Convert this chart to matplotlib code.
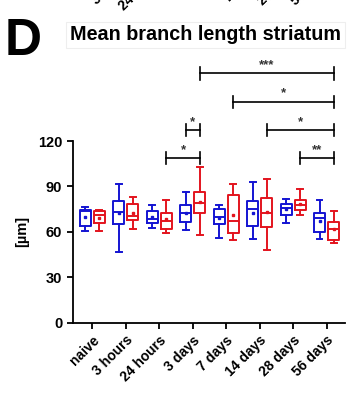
import matplotlib
matplotlib.use("Agg")
import matplotlib.pyplot as plt

plt.rcParams["font.family"] = ["Liberation Sans", "DejaVu Sans"]
plt.rcParams["font.weight"] = "bold"

groups = ["naive", "3 hours", "24 hours", "3 days", "7 days", "14 days", "28 days", "56 days"]

# blue series
whislo_b = [60.6, 46.5, 62.8, 61.0, 56.1, 55.1, 65.6, 55.3]
q1_b = [64.1, 65.2, 66.1, 66.5, 65.0, 63.9, 71.1, 59.9]
med_b = [73.5, 73.3, 68.3, 72.5, 69.6, 74.9, 75.5, 69.4]
q3_b = [74.2, 80.6, 73.8, 77.7, 74.9, 80.2, 78.2, 72.5]
whishi_b = [76.4, 91.4, 77.7, 86.5, 77.9, 92.7, 81.7, 80.8]
mean_b = [69.8, 72.3, 69.6, 72.5, 69.0, 72.7, 75.1, 67.4]

# red series
whislo_r = [60.8, 62.1, 59.0, 58.1, 54.6, 48.2, 71.3, 52.4]
q1_r = [66.1, 67.8, 62.1, 72.5, 59.0, 63.4, 74.2, 54.8]
med_r = [70.9, 70.7, 67.4, 79.1, 67.4, 72.5, 77.9, 61.9]
q3_r = [73.8, 78.6, 72.7, 86.3, 84.1, 82.4, 81.0, 66.3]
whishi_r = [74.2, 83.0, 81.3, 102.6, 91.8, 95.1, 88.1, 74.0]
mean_r = [69.2, 72.3, 68.3, 79.9, 71.3, 73.3, 78.4, 61.9]

# significance brackets: (group, series) at each end, height, label
br_start = [(3, "r"), (4, "r"), (5, "r"), (6, "r"), (3, "b"), (2, "r")]
br_end = [(7, "r"), (7, "r"), (7, "r"), (7, "r"), (3, "r"), (3, "r")]
br_y = [164.7, 146.0, 127.3, 108.6, 127.3, 108.6]
br_label = ["***", "*", "*", "**", "*", "*"]

BLUE = "#1414d2"
RED = "#e3141e"
OFF = 0.21


def make_stats(lo, q1, med, q3, hi, mean):
    return [dict(whislo=a, q1=b, med=c, q3=d, whishi=e, mean=f, fliers=[])
            for a, b, c, d, e, f in zip(lo, q1, med, q3, hi, mean)]


fig = plt.figure(figsize=(3.47, 3.93), dpi=100)
ax = fig.add_axes([0.2095, 0.179, 0.785, 0.462])

idx = list(range(len(groups)))
for stats, off, col in [
    (make_stats(whislo_b, q1_b, med_b, q3_b, whishi_b, mean_b), -OFF, BLUE),
    (make_stats(whislo_r, q1_r, med_r, q3_r, whishi_r, mean_r), OFF, RED),
]:
    ax.bxp(stats, positions=[i + off for i in idx], widths=0.33,
           showmeans=True, showfliers=False, patch_artist=False,
           boxprops=dict(color=col, lw=1.4),
           whiskerprops=dict(color=col, lw=1.4),
           capprops=dict(color=col, lw=1.4),
           medianprops=dict(color=col, lw=1.4),
           meanprops=dict(marker="s", markersize=2, markerfacecolor=col,
                          markeredgecolor=col),
           capwidths=0.17, manage_ticks=False)

for (g1, s1), (g2, s2), y, lab in zip(br_start, br_end, br_y, br_label):
    x1 = g1 + (OFF if s1 == "r" else -OFF)
    x2 = g2 + (OFF if s2 == "r" else -OFF)
    ax.plot([x1, x2], [y, y], color="black", lw=1.2, clip_on=False)
    for x in (x1, x2):
        ax.plot([x, x], [y - 4, y + 4], color="black", lw=1.2, clip_on=False)
    ax.text((x1 + x2) / 2, y + 1.5, lab, ha="center", va="bottom",
            fontsize=9.5, color="#333333", clip_on=False)

ax.set_xlim(-0.585, 7.55)
ax.set_ylim(0, 120)
ax.set_yticks([0, 30, 60, 90, 120])
ax.set_xticks(idx)
ax.set_xticklabels(groups, rotation=45, ha="right", rotation_mode="anchor",
                   fontsize=10, fontweight="bold")
ax.tick_params(axis="y", labelsize=10.5, width=1.3, length=4)
ax.tick_params(axis="x", width=1.3, length=4)
for lab in ax.get_yticklabels():
    lab.set_fontweight("bold")
for side in ("top", "right"):
    ax.spines[side].set_visible(False)
for side in ("left", "bottom"):
    ax.spines[side].set_linewidth(1.3)
ax.set_ylabel("[µm]", fontsize=10.5, fontweight="bold", labelpad=6)

fig.text(0.012, 0.895, "D", fontsize=37, fontweight="bold", va="center", ha="left")
fig.text(0.591, 0.911, "Mean branch length striatum", fontsize=14.2,
         fontweight="bold", ha="center", va="center",
         bbox=dict(boxstyle="square,pad=0.2", fc="white", ec="#eeeeee", lw=0.8))

# fragments of the panel above, cut off at the top edge
frag_text = ["3 hours", "24 hours", "7 days", "28 days", "56 days"]
frag_x = [97, 124, 229, 263, 296]
frag_y = [5, 11, 3, 6, 6]
for t, x, y in zip(frag_text, frag_x, frag_y):
    fig.text(x / 347, 1 - y / 393, t, rotation=45, rotation_mode="anchor",
             ha="left", va="baseline", fontsize=10, fontweight="bold")

fig.savefig("out.png", dpi=100)
